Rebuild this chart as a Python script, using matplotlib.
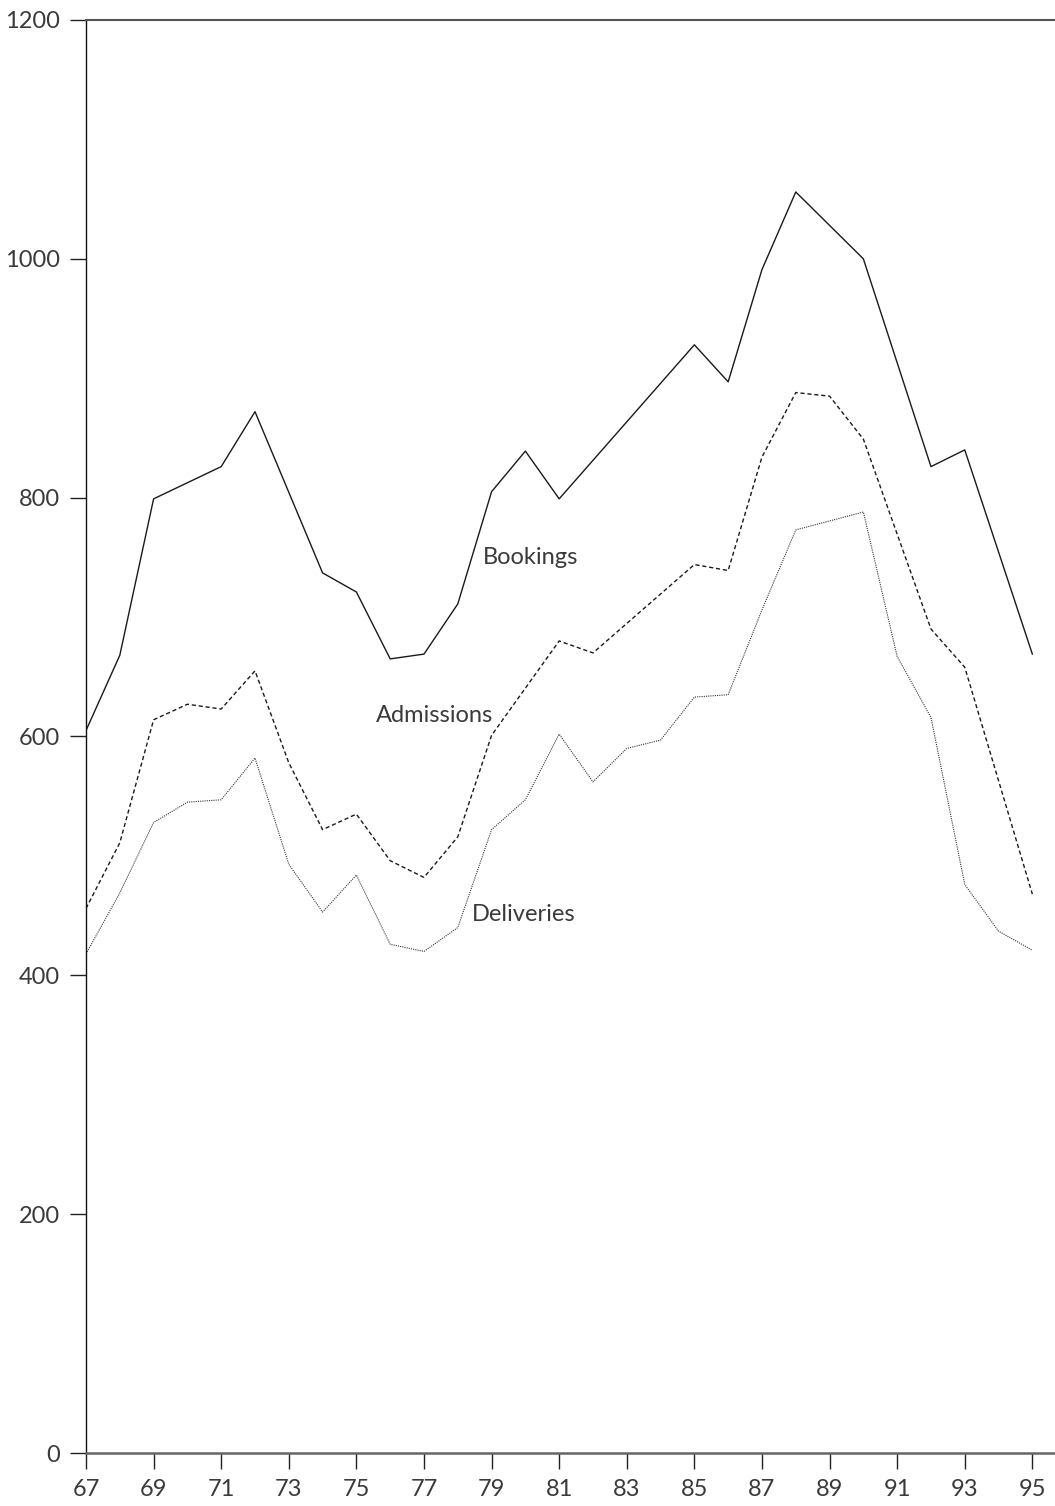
import matplotlib
matplotlib.use("Agg")
import matplotlib.pyplot as plt

# values (year = 19xx)
book_years = [67, 68, 69, 71, 72, 74, 75, 76, 77, 78, 79, 80, 81, 85, 86, 87, 88, 90, 92, 93, 95]
bookings = [605, 668, 799, 826, 872, 737, 721, 665, 669, 711, 805, 839, 799, 928, 897, 991, 1056, 1000, 826, 840, 669]

adm_years = [67, 68, 69, 70, 71, 72, 73, 74, 75, 76, 77, 78, 79, 81, 82, 85, 86, 87, 88, 89, 90, 92, 93, 95]
admissions = [456, 511, 614, 627, 623, 655, 578, 522, 535, 496, 482, 516, 601, 680, 670, 744, 739, 834, 888, 885, 849, 690, 658, 468]

del_years = [67, 68, 69, 70, 71, 72, 73, 74, 75, 76, 77, 78, 79, 80, 81, 82, 83, 84, 85, 86, 87, 88, 90, 91, 92, 93, 94, 95]
deliveries = [418, 469, 528, 545, 547, 582, 493, 453, 484, 426, 420, 440, 522, 547, 602, 562, 590, 597, 633, 635, 706, 773, 788, 667, 616, 476, 437, 421]

x_ticks = list(range(67, 96, 2))
y_ticks = list(range(0, 1201, 200))

plt.rcParams['font.family'] = ['Lato', 'DejaVu Sans']

fig = plt.figure(figsize=(10.55, 15.06), dpi=100)
ax = fig.add_axes([86 / 1055, 1 - 1453 / 1506, 1 - 86 / 1055, (1453 - 20) / 1506])

ax.plot(book_years, bookings, color='#1a1a1a', lw=1.0, ls='-')
ax.plot(adm_years, admissions, color='#1a1a1a', lw=1.0, dashes=(3, 2))
ax.plot(del_years, deliveries, color='#333333', lw=0.8, ls=(0, (1, 1)))

tc = '#3a3a3a'
ax.text(78.75, 750, 'Bookings', fontsize=17, color=tc, ha='left', va='center')
ax.text(75.58, 618, 'Admissions', fontsize=17, color=tc, ha='left', va='center')
ax.text(78.42, 451, 'Deliveries', fontsize=17, color=tc, ha='left', va='center')

ax.set_xlim(67, 95.67)
ax.set_ylim(0, 1200)
ax.set_xticks(x_ticks)
ax.set_yticks(y_ticks)
ax.tick_params(axis='both', direction='out', length=11.5, width=1.0, color='#222222',
               labelsize=17, labelcolor=tc, pad=7)

ax.spines['right'].set_visible(False)
ax.spines['left'].set_color('#111111')
ax.spines['left'].set_linewidth(1.0)
ax.spines['bottom'].set_color('#666666')
ax.spines['bottom'].set_linewidth(1.8)
ax.spines['top'].set_color('#555555')
ax.spines['top'].set_linewidth(1.5)

fig.savefig('out.png', dpi=100)
